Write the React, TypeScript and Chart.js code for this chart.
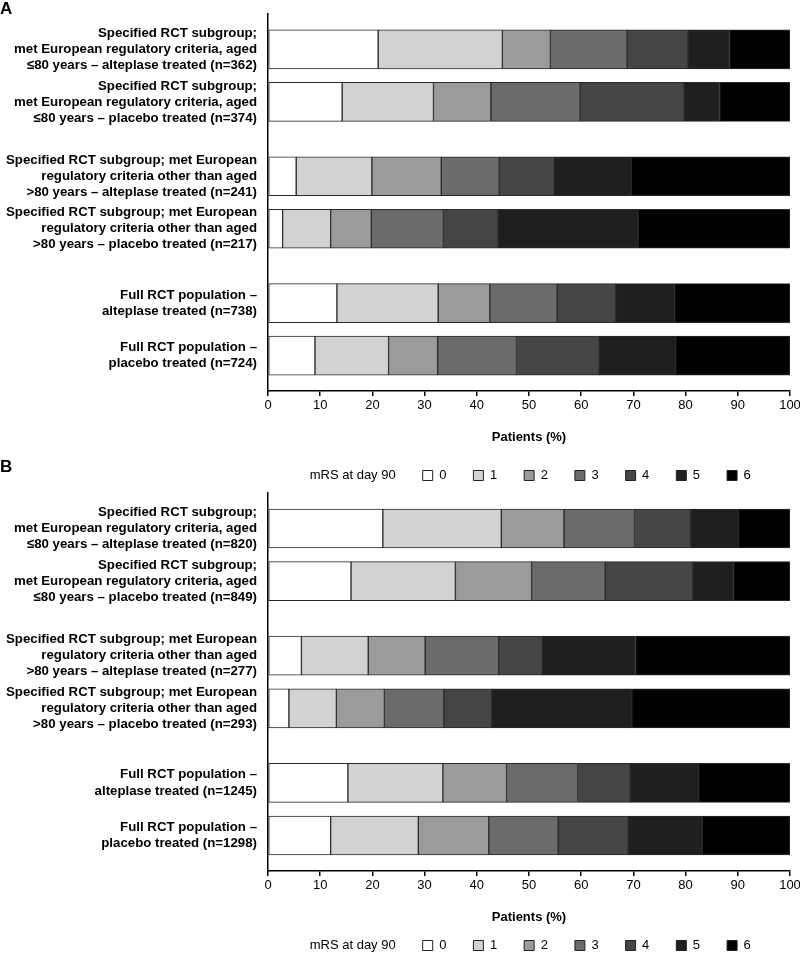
import React, { useEffect, useRef } from "react";
import { Chart, registerables } from "chart.js";

Chart.register(...registerables);

const FONT = "'Liberation Sans', Arial, Helvetica, sans-serif";

const gradeLabels = ["0", "1", "2", "3", "4", "5", "6"];
const gradeColors = ["#ffffff", "#d2d2d2", "#9b9b9b", "#6b6b6b", "#454545", "#1f1f1f", "#000000"];
const legendTitle = "mRS at day 90";
const axisTitle = "Patients (%)";

const categoriesA = [
  ["Specified RCT subgroup;", "met European regulatory criteria, aged", "≤80 years – alteplase treated (n=362)"],
  ["Specified RCT subgroup;", "met European regulatory criteria, aged", "≤80 years – placebo treated (n=374)"],
  ["Specified RCT subgroup; met European", "regulatory criteria other than aged", ">80 years – alteplase treated (n=241)"],
  ["Specified RCT subgroup; met European", "regulatory criteria other than aged", ">80 years – placebo treated (n=217)"],
  ["Full RCT population –", "alteplase treated (n=738)"],
  ["Full RCT population –", "placebo treated (n=724)"],
];

const categoriesB = [
  ["Specified RCT subgroup;", "met European regulatory criteria, aged", "≤80 years – alteplase treated (n=820)"],
  ["Specified RCT subgroup;", "met European regulatory criteria, aged", "≤80 years – placebo treated (n=849)"],
  ["Specified RCT subgroup; met European", "regulatory criteria other than aged", ">80 years – alteplase treated (n=277)"],
  ["Specified RCT subgroup; met European", "regulatory criteria other than aged", ">80 years – placebo treated (n=293)"],
  ["Full RCT population –", "alteplase treated (n=1245)"],
  ["Full RCT population –", "placebo treated (n=1298)"],
];

// Panel A: % of patients in each mRS grade, rows top to bottom
const a_mrs0 = [21.1, 14.2, 5.4, 2.8, 13.2, 9.0];
const a_mrs1 = [23.8, 17.5, 14.5, 9.2, 19.4, 14.1];
const a_mrs2 = [9.2, 11.0, 13.3, 7.8, 9.9, 9.4];
const a_mrs3 = [14.7, 17.1, 11.1, 13.8, 12.9, 15.1];
const a_mrs4 = [11.7, 19.9, 10.4, 10.5, 11.2, 15.7];
const a_mrs5 = [7.9, 6.8, 14.9, 26.8, 11.3, 14.8];
const a_mrs6 = [11.6, 13.5, 30.4, 29.1, 22.1, 21.9];

// Panel B
const b_mrs0 = [22.0, 15.9, 6.4, 4.0, 15.3, 12.0];
const b_mrs1 = [22.7, 20.0, 12.8, 9.1, 18.2, 16.8];
const b_mrs2 = [12.0, 14.6, 10.9, 9.2, 12.2, 13.5];
const b_mrs3 = [13.5, 14.1, 14.1, 11.4, 13.6, 13.3];
const b_mrs4 = [10.8, 16.8, 8.2, 9.2, 10.1, 13.4];
const b_mrs5 = [9.1, 7.8, 18.0, 26.8, 13.1, 14.2];
const b_mrs6 = [9.9, 10.8, 29.6, 30.3, 17.5, 16.8];

const seriesA = [a_mrs0, a_mrs1, a_mrs2, a_mrs3, a_mrs4, a_mrs5, a_mrs6];
const seriesB = [b_mrs0, b_mrs1, b_mrs2, b_mrs3, b_mrs4, b_mrs5, b_mrs6];

// layout: rows come in pairs, with an extra gap between pairs
const PAIR_GAP = 0.415;
const EDGE = 0.674;
const rowPos = (i: number) => i + Math.floor(i / 2) * PAIR_GAP;

const legendNudge = {
  id: "legendNudge",
  afterLayout(chart: any, _args: any, opts: any) {
    const dy = opts && opts.dy ? opts.dy : 0;
    const dx = opts && opts.dx ? opts.dx : 0;
    if (chart.legend) {
      chart.legend.top += dy;
      chart.legend.bottom += dy;
      chart.legend.left += dx;
      chart.legend.right += dx;
    }
  },
};

function Panel(props: { labels: string[][]; series: number[][]; top: number; height: number; padTop: number; nudge: number }) {
  const ref = useRef<HTMLCanvasElement>(null);
  useEffect(() => {
    const { labels, series, padTop, nudge } = props;
    const pos = labels.map((_, i) => rowPos(i));
    const chart = new Chart(ref.current as HTMLCanvasElement, {
      type: "bar",
      data: {
        datasets: gradeLabels.map((g, k) => ({
          label: g,
          data: series[k].map((v, i) => ({ x: v, y: pos[i] })),
          backgroundColor: gradeColors[k],
          borderColor: "#2a2a2a",
          borderWidth: 1,
          borderSkipped: false,
          barThickness: 39,
        })),
      },
      options: {
        indexAxis: "y",
        animation: false,
        responsive: false,
        events: [],
        layout: { padding: { top: padTop, left: 0, right: 10, bottom: 0 } },
        scales: {
          x: {
            type: "linear",
            min: 0,
            max: 100,
            stacked: true,
            position: "bottom",
            afterFit: (s: any) => {
              s.paddingRight = 0;
            },
            ticks: { stepSize: 10, color: "#000", padding: 3, font: { family: FONT, size: 13, lineHeight: 1 } },
            grid: { display: true, drawOnChartArea: false, drawTicks: true, tickLength: 5, color: "#000", lineWidth: 1.5 },
            border: { display: true, color: "#000", width: 1.5 },
            title: {
              display: true,
              text: axisTitle,
              color: "#000",
              font: { family: FONT, size: 13, weight: "bold", lineHeight: 1 },
              padding: { top: 16, bottom: 0 },
            },
          },
          y: {
            type: "linear",
            reverse: true,
            offset: false,
            stacked: true,
            min: -EDGE,
            max: rowPos(labels.length - 1) + EDGE,
            afterBuildTicks: (s: any) => {
              s.ticks = pos.map((v) => ({ value: v }));
            },
            afterFit: (s: any) => {
              s.width = 268;
              s.paddingTop = 0;
              s.paddingBottom = 0;
            },
            ticks: {
              autoSkip: false,
              color: "#000",
              padding: 11,
              font: { family: FONT, size: 13.25, weight: "bold", lineHeight: 1.21 },
              callback: (_v: any, i: number) => labels[i],
            },
            grid: { display: false, drawTicks: false },
            border: { display: true, color: "#000", width: 1.5 },
          },
        },
        plugins: {
          tooltip: { enabled: false },
          legend: {
            display: true,
            position: "bottom",
            fullSize: false,
            align: "center",
            onClick: () => {},
            labels: {
              boxWidth: 10,
              boxHeight: 10,
              padding: 27,
              color: "#000",
              font: { family: FONT, size: 13, lineHeight: 1 },
              generateLabels: () => [
                {
                  text: legendTitle,
                  fillStyle: "rgba(0,0,0,0)",
                  strokeStyle: "rgba(0,0,0,0)",
                  lineWidth: 0,
                  hidden: false,
                  datasetIndex: -1,
                },
                ...gradeLabels.map((g, k) => ({
                  text: g,
                  fillStyle: gradeColors[k],
                  strokeStyle: "#222",
                  lineWidth: 1,
                  hidden: false,
                  datasetIndex: k,
                })),
              ],
            },
          },
          legendNudge: { dy: nudge, dx: -7 },
        } as any,
      },
      plugins: [legendNudge],
    } as any);
    return () => chart.destroy();
  }, []);
  return (
    <canvas
      ref={ref}
      width={800}
      height={props.height}
      style={{ position: "absolute", left: 0, top: props.top, width: 800, height: props.height }}
    />
  );
}

const panelLetter: React.CSSProperties = {
  position: "absolute",
  left: 0,
  fontFamily: FONT,
  fontWeight: "bold",
  fontSize: 17,
  lineHeight: "20px",
  color: "#000",
  zIndex: 2,
};

export default function App() {
  return (
    <div style={{ position: "fixed", left: 0, top: 0, width: 800, height: 959, overflow: "hidden", background: "#fff" }}>
      <Panel labels={categoriesA} series={seriesA} top={0} height={494} padTop={14} nudge={-2} />
      <Panel labels={categoriesB} series={seriesB} top={479} height={495} padTop={14} nudge={-12} />
      <div style={{ ...panelLetter, top: -1 }}>A</div>
      <div style={{ ...panelLetter, top: 457 }}>B</div>
    </div>
  );
}
